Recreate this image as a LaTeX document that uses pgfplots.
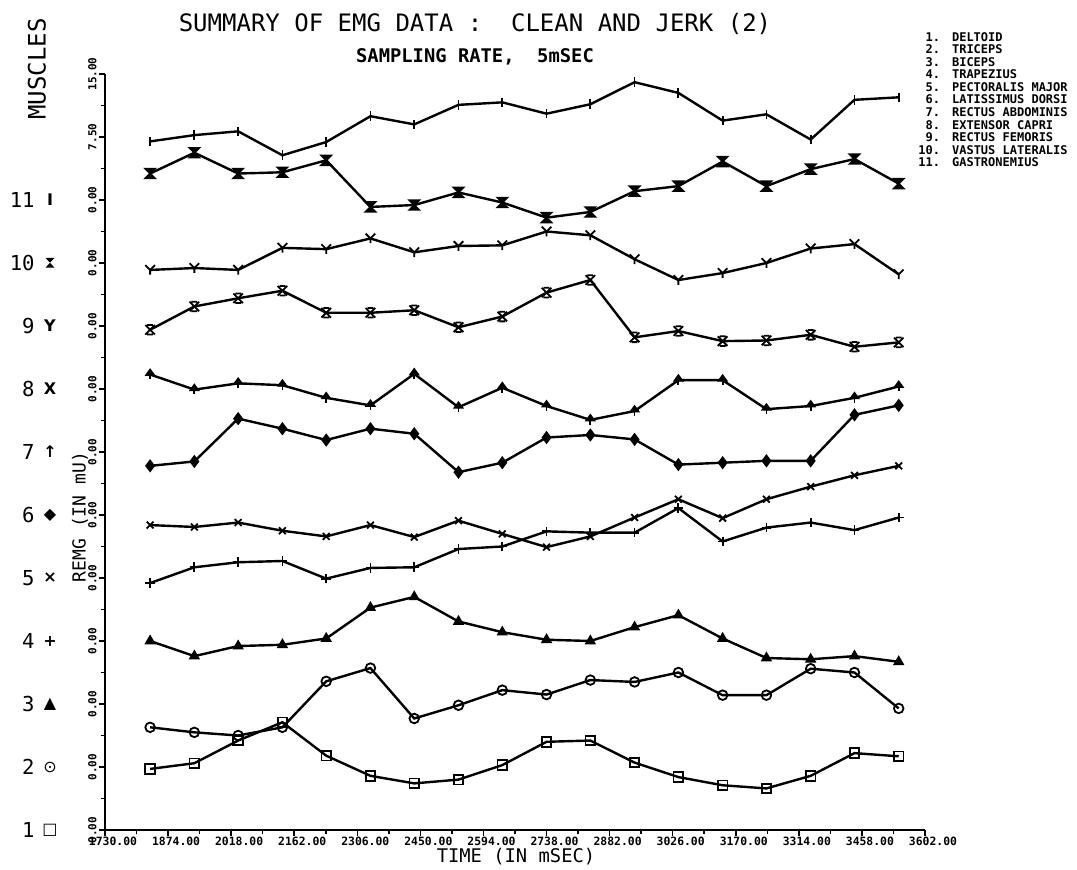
\documentclass[border=0pt]{standalone}
\usepackage{fontspec}
\setmainfont{DejaVu Sans}
\newfontfamily\mono{DejaVu Sans Mono}
\newfontfamily\symf{DejaVu Sans}
\usepackage{pgfplots}
\pgfplotsset{compat=1.18}
\usepackage{pgfplotstable}

% custom plot marks
\pgfdeclareplotmark{hglassf}{%
  \pgfpathmoveto{\pgfqpoint{-\pgfplotmarksize}{\pgfplotmarksize}}%
  \pgfpathlineto{\pgfqpoint{\pgfplotmarksize}{\pgfplotmarksize}}%
  \pgfpathlineto{\pgfqpoint{-\pgfplotmarksize}{-\pgfplotmarksize}}%
  \pgfpathlineto{\pgfqpoint{\pgfplotmarksize}{-\pgfplotmarksize}}%
  \pgfpathclose\pgfusepathqfillstroke}
\pgfdeclareplotmark{xbar}{%
  \pgfpathmoveto{\pgfqpoint{-\pgfplotmarksize}{\pgfplotmarksize}}%
  \pgfpathlineto{\pgfqpoint{\pgfplotmarksize}{-\pgfplotmarksize}}%
  \pgfpathmoveto{\pgfqpoint{-\pgfplotmarksize}{-\pgfplotmarksize}}%
  \pgfpathlineto{\pgfqpoint{\pgfplotmarksize}{\pgfplotmarksize}}%
  \pgfpathmoveto{\pgfqpoint{-0.6\pgfplotmarksize}{\pgfplotmarksize}}%
  \pgfpathlineto{\pgfqpoint{0.6\pgfplotmarksize}{\pgfplotmarksize}}%
  \pgfpathmoveto{\pgfqpoint{-0.6\pgfplotmarksize}{-\pgfplotmarksize}}%
  \pgfpathlineto{\pgfqpoint{0.6\pgfplotmarksize}{-\pgfplotmarksize}}%
  \pgfusepathqstroke}
\pgfdeclareplotmark{ymark}{%
  \pgfpathmoveto{\pgfqpoint{-\pgfplotmarksize}{\pgfplotmarksize}}%
  \pgfpathlineto{\pgfqpoint{0pt}{0pt}}%
  \pgfpathlineto{\pgfqpoint{\pgfplotmarksize}{\pgfplotmarksize}}%
  \pgfpathmoveto{\pgfqpoint{0pt}{0pt}}%
  \pgfpathlineto{\pgfqpoint{0pt}{-\pgfplotmarksize}}%
  \pgfusepathqstroke}
\pgfdeclareplotmark{uarrow}{%
  \pgfpathmoveto{\pgfqpoint{0pt}{\pgfplotmarksize}}%
  \pgfpathlineto{\pgfqpoint{-0.8\pgfplotmarksize}{-0.1\pgfplotmarksize}}%
  \pgfpathlineto{\pgfqpoint{0.8\pgfplotmarksize}{-0.1\pgfplotmarksize}}%
  \pgfpathclose\pgfusepathqfillstroke
  \pgfpathmoveto{\pgfqpoint{0pt}{0pt}}%
  \pgfpathlineto{\pgfqpoint{0pt}{-\pgfplotmarksize}}%
  \pgfusepathqstroke}

\pgfplotstableread{
t     s1   s2   s3   s4   s5   s6   s7   s8   s9   s10   s11
1833  0.97 1.63 3.00 3.92 4.84 5.78 7.23 7.94 8.89 10.42 10.93
1934  1.06 1.55 2.76 4.17 4.81 5.85 6.99 8.31 8.92 10.75 11.03
2034  1.42 1.50 2.92 4.25 4.88 6.53 7.09 8.44 8.89 10.42 11.09
2135  1.71 1.63 2.94 4.27 4.75 6.37 7.06 8.56 9.24 10.44 10.71
2235  1.18 2.36 3.04 3.99 4.66 6.19 6.86 8.21 9.22 10.63 10.92
2336  0.86 2.57 3.53 4.16 4.84 6.37 6.74 8.21 9.39 9.89  11.33
2436  0.74 1.77 3.70 4.17 4.65 6.29 7.24 8.25 9.17 9.92  11.20
2537  0.80 1.98 3.31 4.46 4.91 5.68 6.71 7.98 9.27 10.12 11.51
2637  1.03 2.22 3.14 4.50 4.70 5.83 7.02 8.15 9.28 9.96  11.55
2738  1.40 2.15 3.02 4.74 4.49 6.23 6.73 8.53 9.50 9.72  11.37
2838  1.42 2.38 3.00 4.72 4.66 6.27 6.51 8.73 9.44 9.81  11.52
2939  1.07 2.35 3.22 4.72 4.96 6.20 6.65 7.82 9.06 10.14 11.87
3039  0.84 2.50 3.41 5.11 5.25 5.80 7.14 7.92 8.73 10.22 11.70
3140  0.71 2.14 3.04 4.58 4.95 5.83 7.14 7.76 8.84 10.61 11.26
3240  0.66 2.14 2.73 4.80 5.25 5.86 6.68 7.77 9.00 10.22 11.36
3341  0.86 2.56 2.71 4.88 5.45 5.86 6.73 7.86 9.23 10.49 10.96
3441  1.22 2.50 2.76 4.76 5.63 6.59 6.86 7.67 9.30 10.65 11.59
3542  1.17 1.93 2.67 4.96 5.78 6.74 7.04 7.74 8.82 10.26 11.63
}\emgdata

\newcommand\hglasssym{\tikz[baseline=-0.6ex]\fill (-2.2pt,2.4pt)--(2.2pt,2.4pt)--(-2.2pt,-2.4pt)--(2.2pt,-2.4pt)--cycle;}

\begin{document}
\begin{tikzpicture}[x=0.5pt,y=0.5pt]
\path[use as bounding box, fill=white] (0,0) rectangle (1077,869);
\begin{axis}[
  at={(52.5pt,19.5pt)}, anchor=south west,
  scale only axis, width=410pt, height=378pt,
  xmin=1730, xmax=3602, ymin=0, ymax=12,
  axis x line*=bottom, axis y line*=left,
  axis line style={line width=1pt,-},
  xtick={1730,1874,2018,2162,2306,2450,2594,2738,2882,3026,3170,3314,3458,3602},
  xticklabels={1730.00,1874.00,2018.00,2162.00,2306.00,2450.00,2594.00,2738.00,2882.00,3026.00,3170.00,3314.00,3458.00,3602.00},
  minor x tick num=1,
  ytick={0,1,2,3,4,5,6,7,8,9,10,11,12},
  yticklabels={0.00,0.00,0.00,0.00,0.00,0.00,0.00,0.00,0.00,0.00,0.00,7.50,15.00},
  minor y tick num=1,
  tick align=outside,
  major tick length=3pt, minor tick length=2pt,
  tick style={line width=0.8pt, black},
  xticklabel style={font=\mono\bfseries\fontsize{5.7}{6}\selectfont, xshift=4pt, inner sep=0.5pt},
  yticklabel style={font=\mono\bfseries\fontsize{5.5}{6}\selectfont, rotate=90, anchor=south, inner sep=1pt},
  clip=false,
  every axis plot/.append style={line width=1.2pt, black, mark size=2.4pt, mark options={line width=0.9pt, fill=black}},
]
\addplot[mark=square] table[x=t,y=s1]{\emgdata};
\addplot[mark=o] table[x=t,y=s2]{\emgdata};
\addplot[mark=triangle*] table[x=t,y=s3]{\emgdata};
\addplot[mark=+] table[x=t,y=s4]{\emgdata};
\addplot[mark=x] table[x=t,y=s5]{\emgdata};
\addplot[mark=diamond*, mark size=2.6pt] table[x=t,y=s6]{\emgdata};
\addplot[mark=uarrow] table[x=t,y=s7]{\emgdata};
\addplot[mark=xbar] table[x=t,y=s8]{\emgdata};
\addplot[mark=ymark] table[x=t,y=s9]{\emgdata};
\addplot[mark=hglassf] table[x=t,y=s10]{\emgdata};
\addplot[mark=|] table[x=t,y=s11]{\emgdata};
\end{axis}

% titles
\node[font=\mono\fontsize{12}{12}\selectfont] at (475,845.5) {SUMMARY OF EMG DATA :\ \ CLEAN AND JERK (2)};
\node[font=\mono\bfseries\fontsize{9.4}{10}\selectfont] at (475,812.5) {SAMPLING RATE,\ \ 5mSEC};

% legend
\node[anchor=north west, inner sep=0pt, font=\mono\bfseries\fontsize{6}{6.05}\selectfont] at (918,837)
 {\begin{tabular}{@{}r@{\hspace{6pt}}l@{}}
 1. & DELTOID\\ 2. & TRICEPS\\ 3. & BICEPS\\ 4. & TRAPEZIUS\\ 5. & PECTORALIS MAJOR\\
 6. & LATISSIMUS DORSI\\ 7. & RECTUS ABDOMINIS\\ 8. & EXTENSOR CAPRI\\ 9. & RECTUS FEMORIS\\
 10. & VASTUS LATERALIS\\ 11. & GASTRONEMIUS
 \end{tabular}};

% axis titles
\node[rotate=90, font=\mono\fontsize{12}{12}\selectfont] at (37,800) {MUSCLES};
\node[rotate=90, font=\mono\fontsize{9}{9}\selectfont] at (80,352) {REMG (IN mU)};
\node[font=\mono\fontsize{9.4}{9.4}\selectfont] at (516,12) {TIME (IN mSEC)};

% muscle index labels
\foreach \k/\s in {1/{\symf □},2/{\symf ⊙},3/{\symf ▲},4/{\symf\bfseries +},5/{\symf\bfseries ×},6/{\symf ◆},7/{\symf\bfseries ↑},8/{\symf\bfseries X},9/{\symf\bfseries Y},10/{\hglasssym},11/{\symf\bfseries I}}{
  \node[anchor=east, font=\mono\fontsize{10.3}{10.3}\selectfont, inner sep=0pt] at (35,{39+(\k-1)*63}) {\k};
  \node[font=\fontsize{8}{8}\selectfont, inner sep=0pt] at (50,{39+(\k-1)*63}) {\s};
}
\end{tikzpicture}
\end{document}
